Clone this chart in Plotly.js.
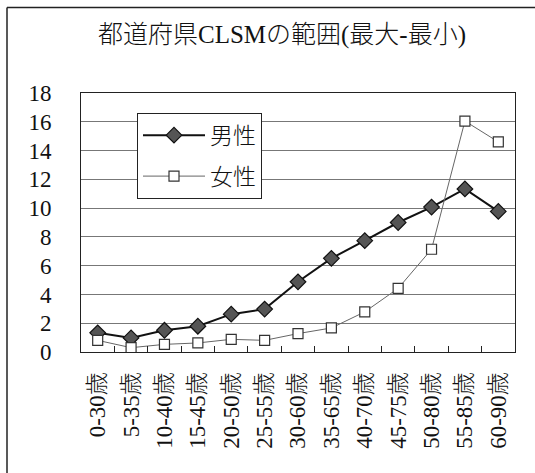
<!DOCTYPE html>
<html>
<head>
<meta charset="utf-8">
<script src="https://cdn.plot.ly/plotly-3.0.1.min.js"></script>
<style>
html,body{margin:0;padding:0;background:#fff;}
#chart{width:535px;height:473px;}
</style>
</head>
<body>
<div id="chart"></div>
<script>
const categories = ["0-30歳","5-35歳","10-40歳","15-45歳","20-50歳","25-55歳","30-60歳","35-65歳","40-70歳","45-75歳","50-80歳","55-85歳","60-90歳"];
const maleValues = [1.33, 0.98, 1.51, 1.79, 2.63, 2.98, 4.88, 6.51, 7.74, 9.0, 10.07, 11.33, 9.77];
const femaleValues = [0.81, 0.3, 0.53, 0.63, 0.88, 0.81, 1.28, 1.67, 2.79, 4.42, 7.14, 16.05, 14.6];
const seriesNames = ["男性", "女性"];
const chartTitle = "都道府県CLSMの範囲(最大-最小)";
const yTicks = [0,2,4,6,8,10,12,14,16,18];

const FONT = '"Liberation Serif", "Times New Roman", "Noto Sans CJK JP", serif';

const traces = [
  {
    x: categories, y: maleValues, name: seriesNames[0], type: 'scatter', mode: 'lines+markers',
    legendgroup: 'm',
    line: {color: '#111', width: 2},
    marker: {symbol: 'diamond', size: 12, color: '#555', line: {color: '#111', width: 1.2}}
  },
  {
    x: categories, y: femaleValues, name: seriesNames[1], type: 'scatter', mode: 'lines+markers',
    legendgroup: 'f',
    line: {color: '#666', width: 1},
    marker: {symbol: 'square', size: 10, color: '#fff', line: {color: '#333', width: 1.2}}
  }
];

const layout = {
  width: 535, height: 473,
  margin: {l: 81, r: 20, t: 93, b: 121},
  paper_bgcolor: '#fff', plot_bgcolor: '#fff',
  font: {family: FONT, color: '#111', size: 20},
  title: {
    text: chartTitle,
    font: {family: FONT, size: 25, color: '#111', weight: 300},
    xref: 'container', yref: 'container',
    x: 282/535, xanchor: 'center',
    y: 1 - 34/473, yanchor: 'middle'
  },
  showlegend: true,
  legend: {
    x: (137-81)/434, xanchor: 'left',
    y: (351.7-113)/258.4, yanchor: 'top',
    bgcolor: '#fff', bordercolor: '#222', borderwidth: 1,
    font: {family: FONT, size: 23, color: '#111', weight: 300},
    traceorder: 'grouped', tracegroupgap: 8,
    itemwidth: 62
  },
  xaxis: {
    type: 'category',
    range: [-0.5, 12.5],
    showgrid: false,
    showline: true, linecolor: '#222', linewidth: 1, mirror: true,
    ticks: 'inside', ticklen: 6, tickcolor: '#222', tickson: 'boundaries',
    tickangle: -90,
    ticklabelstandoff: 10,
    tickfont: {family: FONT, size: 23, color: '#111', weight: 300},
    fixedrange: true
  },
  yaxis: {
    range: [0, 18],
    tickvals: yTicks,
    ticktext: yTicks.map(String),
    showgrid: true, gridcolor: '#777', gridwidth: 1,
    showline: true, linecolor: '#222', linewidth: 1, mirror: true,
    ticks: '', zeroline: false,
    ticklabelstandoff: 24,
    tickfont: {family: FONT, size: 23, color: '#111'},
    fixedrange: true
  },
  shapes: [
    {type: 'line', xref: 'paper', yref: 'paper',
     x0: (7-81)/434, x1: (7-81)/434, y0: (351.7-8)/258.4, y1: (351.7-480)/258.4,
     line: {color: '#222', width: 1.5}},
    {type: 'line', xref: 'paper', yref: 'paper',
     x0: (7-81)/434, x1: (540-81)/434, y0: (351.7-8)/258.4, y1: (351.7-8)/258.4,
     line: {color: '#222', width: 1.5}}
  ]
};

Plotly.newPlot('chart', traces, layout, {staticPlot: true, displayModeBar: false});
</script>
</body>
</html>
